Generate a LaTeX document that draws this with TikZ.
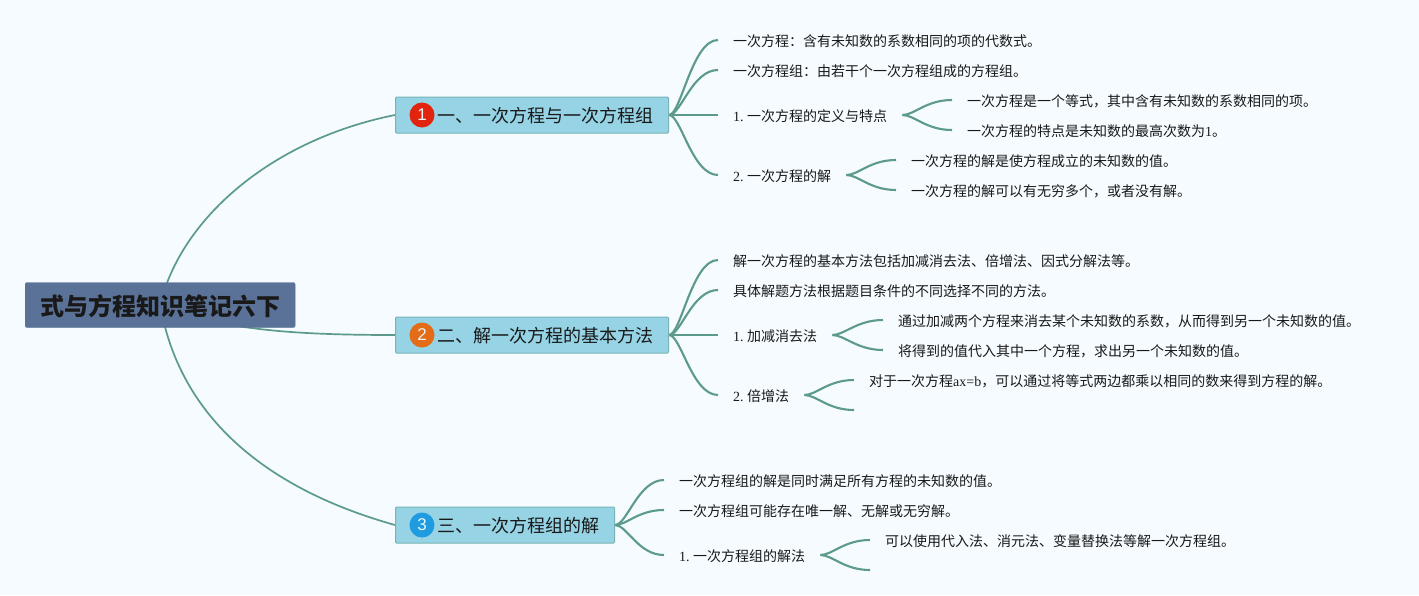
\documentclass[tikz,border=0pt]{standalone}
\usepackage{fontspec}
\setmainfont{Noto Sans CJK SC}
\newfontfamily\latin{Liberation Serif}
\newfontfamily\digit{Liberation Sans}
\usetikzlibrary{backgrounds}
\definecolor{pagebg}{HTML}{F5FBFF}
\definecolor{linkcol}{HTML}{5C9A8C}
\definecolor{rootcol}{HTML}{5A7298}
\definecolor{branchcol}{HTML}{95D3E5}
\definecolor{branchedge}{HTML}{78B4B4}
\definecolor{badgeone}{HTML}{E2240F}
\definecolor{badgetwo}{HTML}{E46C16}
\definecolor{badgethree}{HTML}{1F9BE0}
\tikzset{
  every picture/.style={line join=round, line cap=round},
  link/.style={draw=linkcol, line width=2.1pt},
  rootlink/.style={draw=linkcol, line width=1.7pt},
  flow/.style={out=0, in=180, out distance=12pt, in distance=26pt},
  rootbox/.style={fill=rootcol, draw=rootcol, rounded corners=2pt, anchor=west, minimum width=270pt, minimum height=45pt, text height=22pt, text depth=1pt, font=\fontsize{24}{28}\selectfont\bfseries, text=black!90},
  branch/.style={fill=branchcol, draw=branchedge, line width=1pt, rounded corners=1pt, anchor=west, minimum height=36pt, inner xsep=15pt, text height=16.7pt, text depth=1pt, font=\fontsize{18}{22}\selectfont, text=black!90},
  badge/.style={circle, minimum size=25pt, inner sep=0pt, text=white!80!branchcol, font=\digit\fontsize{17}{20}\selectfont},
  leaf/.style={anchor=west, inner xsep=15pt, inner ysep=2pt, text height=13.6pt, text depth=1pt, font=\fontsize{14}{17}\selectfont, text=black!90},
}
\newcommand{\numlabel}[1]{{\latin #1.\hspace{3.5pt}}}
\begin{document}
\begin{tikzpicture}[x=1pt,y=-1pt]
\useasboundingbox (0,0) rectangle (1419,595);
% root and the three branches
\node[rootbox] (root) at (25,305) {式与方程知识笔记六下};
\node[branch] (b1) at (395,115) {\hspace*{27pt}一、一次方程与一次方程组};
\node[branch] (b2) at (395,335) {\hspace*{27pt}二、解一次方程的基本方法};
\node[branch] (b3) at (395,525) {\hspace*{27pt}三、一次方程组的解};
\node[badge,fill=badgeone] (n1) at (422,115) {1};
\node[badge,fill=badgetwo] (n2) at (422,335) {2};
\node[badge,fill=badgethree] (n3) at (422,525) {3};
% branch 1
\node[leaf] (a1) at (718,40) {一次方程：含有未知数的系数相同的项的代数式。};
\node[leaf] (a2) at (718,70) {一次方程组：由若干个一次方程组成的方程组。};
\node[leaf] (a3) at (718,115) {\numlabel{1}一次方程的定义与特点};
\node[leaf] (a4) at (718,175) {\numlabel{2}一次方程的解};
\node[leaf] (a31) at (952,100) {一次方程是一个等式，其中含有未知数的系数相同的项。};
\node[leaf] (a32) at (952,130) {一次方程的特点是未知数的最高次数为{\latin 1}。};
\node[leaf] (a41) at (896,160) {一次方程的解是使方程成立的未知数的值。};
\node[leaf] (a42) at (896,190) {一次方程的解可以有无穷多个，或者没有解。};
% branch 2
\node[leaf] (c1) at (718,260) {解一次方程的基本方法包括加减消去法、倍增法、因式分解法等。};
\node[leaf] (c2) at (718,290) {具体解题方法根据题目条件的不同选择不同的方法。};
\node[leaf] (c3) at (718,335) {\numlabel{1}加减消去法};
\node[leaf] (c4) at (718,395) {\numlabel{2}倍增法};
\node[leaf] (c31) at (883,320) {通过加减两个方程来消去某个未知数的系数，从而得到另一个未知数的值。};
\node[leaf] (c32) at (883,350) {将得到的值代入其中一个方程，求出另一个未知数的值。};
\node[leaf] (c41) at (854,380) {对于一次方程{\latin ax=b}，可以通过将等式两边都乘以相同的数来得到方程的解。};
\coordinate (c42) at (854,410);
% branch 3
\node[leaf] (d1) at (664,480) {一次方程组的解是同时满足所有方程的未知数的值。};
\node[leaf] (d2) at (664,510) {一次方程组可能存在唯一解、无解或无穷解。};
\node[leaf] (d3) at (664,555) {\numlabel{1}一次方程组的解法};
\node[leaf] (d31) at (870,540) {可以使用代入法、消元法、变量替换法等解一次方程组。};
\coordinate (d32) at (870,570);
\begin{scope}[on background layer]
\fill[pagebg] (0,0) rectangle (1419,595);
\draw[rootlink] (root.center) .. controls +(20,-85) and +(-125,25) .. (b1.west);
\draw[rootlink] (root.center) .. controls +(60,25) and +(-100,0) .. (b2.west);
\draw[rootlink] (root.center) .. controls +(20,115) and +(-125,-35) .. (b3.west);
\draw[link] (b1.east) to[flow] (a1.west);
\draw[link] (b1.east) to[flow] (a2.west);
\draw[link] (b1.east) to[flow] (a3.west);
\draw[link] (b1.east) to[flow] (a4.west);
\draw[link] (a3.east) to[flow] (a31.west);
\draw[link] (a3.east) to[flow] (a32.west);
\draw[link] (a4.east) to[flow] (a41.west);
\draw[link] (a4.east) to[flow] (a42.west);
\draw[link] (b2.east) to[flow] (c1.west);
\draw[link] (b2.east) to[flow] (c2.west);
\draw[link] (b2.east) to[flow] (c3.west);
\draw[link] (b2.east) to[flow] (c4.west);
\draw[link] (c3.east) to[flow] (c31.west);
\draw[link] (c3.east) to[flow] (c32.west);
\draw[link] (c4.east) to[flow] (c41.west);
\draw[link] (c4.east) to[flow] (c42);
\draw[link] (b3.east) to[flow] (d1.west);
\draw[link] (b3.east) to[flow] (d2.west);
\draw[link] (b3.east) to[flow] (d3.west);
\draw[link] (d3.east) to[flow] (d31.west);
\draw[link] (d3.east) to[flow] (d32);
\end{scope}
\end{tikzpicture}
\end{document}
